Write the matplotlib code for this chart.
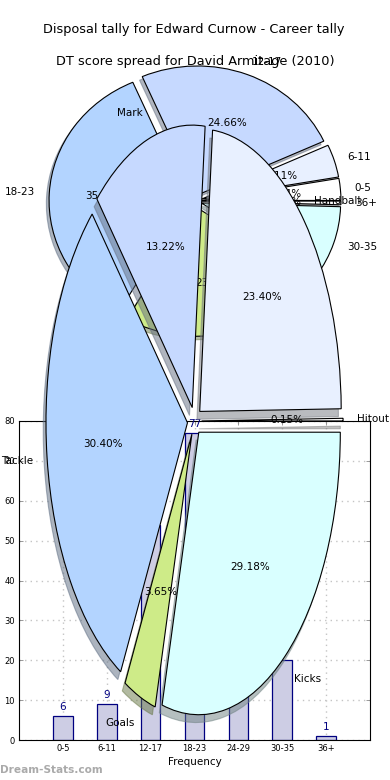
import matplotlib
matplotlib.use("Agg")
from matplotlib import pyplot as plt

W, H = 390, 780

# score spread (bars and first pie)
score_bins = ["0-5", "6-11", "12-17", "18-23", "24-29", "30-35", "36+"]
score_counts = [6, 9, 54, 77, 52, 20, 1]

# disposal shares (second pie)
disposal_types = ["Hitout", "Handball", "Mark", "Tackle", "Goals", "Kicks"]
disposal_shares = [0.15, 23.40, 13.22, 30.40, 3.65, 29.18]

y_ticks = [0, 10, 20, 30, 40, 50, 60, 70, 80]

pie_colors = ["#ffffff", "#e8f0ff", "#c6d9ff", "#b3d4ff", "#ceeb88", "#d9ffff"]


def px_axes(fig, left, top, right, bottom):
    return fig.add_axes([left / W, 1 - bottom / H, (right - left) / W, (bottom - top) / H])


def pie_axes(fig, cx, cy, rx, ry):
    # pie keeps limits of +-1.25, so stretch the axes to get the elliptical look
    return px_axes(fig, cx - 1.25 * rx, cy - 1.25 * ry, cx + 1.25 * rx, cy + 1.25 * ry)


def draw_pie(ax, values, labels):
    ax.pie(values, labels=labels, colors=pie_colors, explode=[0.05] * len(values),
           autopct="%1.2f%%", shadow={"ox": -0.014, "oy": -0.02, "shade": 0.5},
           wedgeprops={"edgecolor": "black", "linewidth": 0.8},
           textprops={"fontsize": 7.5})
    ax.set_aspect("auto")
    ax.patch.set_visible(False)


fig = plt.figure(figsize=(W / 100, H / 100), dpi=100)

# bar chart goes at the bottom of the pile
ax_bar = px_axes(fig, 19, 421, 370, 740)
bars = ax_bar.bar(range(len(score_counts)), score_counts, width=0.45,
                  facecolor="#cdcde4", edgecolor="navy", linewidth=0.9)
for bar, count in zip(bars, score_counts):
    ax_bar.text(bar.get_x() + bar.get_width() / 2, count + 1, str(count),
                ha="center", va="bottom", fontsize=7.5, color="navy")
ax_bar.set_xlim(-1, 7)
ax_bar.set_ylim(0, 80)
ax_bar.set_xticks(range(len(score_bins)))
ax_bar.set_xticklabels(score_bins)
ax_bar.set_yticks(y_ticks)
ax_bar.tick_params(labelsize=6, direction="in", top=True, right=True, length=3, width=0.6, pad=3,
                   color="#888888")
ax_bar.grid(True, linestyle=(0, (1, 3)), color="#c4c4c4", linewidth=1)
ax_bar.set_axisbelow(True)
ax_bar.set_xlabel("Frequency", fontsize=7.5, labelpad=3)

ax_score = pie_axes(fig, 195, 201, 139, 129)
draw_pie(ax_score, score_counts, score_bins)

ax_disp = pie_axes(fig, 194.5, 421, 141.5, 282.5)
draw_pie(ax_disp, disposal_shares, disposal_types)

fig.text(0.497, 1 - 30 / H, "Disposal tally for Edward Curnow - Career tally",
         ha="center", va="center", fontsize=9.3)
fig.text(0.5, 1 - 61 / H, "DT score spread for David Armitage (2010)",
         ha="center", va="center", fontsize=9.3)
fig.text(0, 1 - 770 / H, "Dream-Stats.com", ha="left", va="center",
         fontsize=7.6, fontweight="bold", color="#aaaaaa")

fig.savefig("out.png", dpi=100)
